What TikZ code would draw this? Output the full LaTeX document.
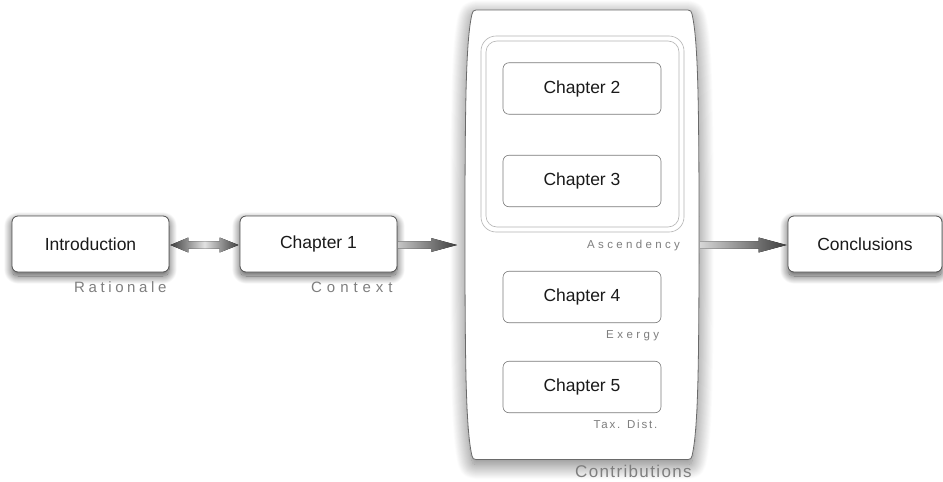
\documentclass[tikz,border=0pt]{standalone}
\usepackage{fontspec}
\setmainfont{Liberation Sans}
\usetikzlibrary{calc,shadows.blur}

\definecolor{boxline}{HTML}{505050}
\definecolor{innerline}{HTML}{7A7A7A}
\definecolor{frameline}{HTML}{B4B4B4}
\definecolor{labelgray}{HTML}{7E7E7E}
\definecolor{inktext}{HTML}{1A1A1A}
\definecolor{arrowdark}{HTML}{3E3E3E}
\definecolor{arrowlight}{HTML}{E2E2E2}
\definecolor{arrowfaint}{HTML}{C4C4C4}
\definecolor{arrowpale}{HTML}{D6D6D6}

\begin{document}
\begin{tikzpicture}[x=1pt,y=-1pt,
  outerbox/.style={draw=boxline, line width=0.8pt, fill=white, rounded corners=6pt,
    minimum width=157pt, minimum height=56pt, inner sep=0pt, text=inktext,
    font=\fontsize{17.5}{20}\selectfont,
    blur shadow={shadow xshift=0pt, shadow yshift=-4pt, shadow blur radius=8pt,
      shadow blur steps=20, shadow opacity=70}},
  chapbox/.style={draw=innerline, line width=0.6pt, fill=white, rounded corners=6pt,
    minimum width=158pt, minimum height=51.5pt, inner sep=0pt, text=inktext,
    font=\fontsize{17.5}{20}\selectfont},
  tag/.style n args={2}{text=labelgray, inner sep=0pt, anchor=base west,
    font=\fontsize{#1}{#1}\selectfont\addfontfeatures{LetterSpace=#2}},
  framepath/.style={draw=frameline, line width=0.6pt}
]
\useasboundingbox (0,0) rectangle (943,482);

% the tall "Contributions" panel with slightly bowed sides
\path[draw=boxline!85, line width=0.8pt, fill=white,
  blur shadow={shadow xshift=0pt, shadow yshift=-5pt, shadow blur radius=15pt,
    shadow blur steps=30, shadow opacity=55}]
  (476,10) -- (688,10) .. controls (690.5,10) and (691.5,11.5) .. (692,14)
  .. controls (698,40) and (699,100) .. (699,235)
  .. controls (699,370) and (698,430) .. (692,456)
  .. controls (691.5,458.5) and (690.5,459.5) .. (688,459.5)
  -- (476,459.5) .. controls (473.5,459.5) and (472.5,458.5) .. (472,456)
  .. controls (466,430) and (465,370) .. (465,235)
  .. controls (465,100) and (466,40) .. (472,14)
  .. controls (472.5,11.5) and (473.5,10) .. (476,10) -- cycle;
\coordinate (contW) at (465,245);
\coordinate (contE) at (699,245);

% double frame grouping chapters 2 and 3
\draw[framepath, rounded corners=15pt] (481,36) rectangle (684,232);
\draw[framepath, rounded corners=11pt] (486,41) rectangle (679,227);

% chapter boxes
\node[outerbox] (intro) at (90.5,244) {Introduction};
\node[outerbox] (ch1) at (318.5,244) {Chapter 1};
\node[outerbox, minimum width=154pt] (concl) at (865,244) {Conclusions};
\node[chapbox] (ch2) at (582,88.5) {Chapter 2};
\node[chapbox] (ch3) at (582,181) {Chapter 3};
\node[chapbox] (ch4) at (582,297) {Chapter 4};
\node[chapbox] (ch5) at (582,387) {Chapter 5};

% captions
\node[tag={15}{24}] (rat) at (74,292.7) {Rationale};
\node[tag={15}{33}] (ctx) at (311,292.7) {Context};
\node[tag={11.5}{29}] (asc) at (587,248.3) {Ascendency};
\node[tag={11.5}{30}] (exe) at (606,338.3) {Exergy};
\node[tag={11.5}{16}] (tax) at (593.5,428.3) {Tax. Dist.};
\node[tag={17}{8}] (con) at (575,477.7) {Contributions};

% Introduction <-> Chapter 1
\coordinate (d1) at ($(intro.east)+(1,1)$);
\coordinate (d2) at ($(ch1.west)+(-1,1)$);
\fill[left color=arrowdark, right color=arrowdark, middle color=arrowlight]
  (d1) -- ($(d1)+(18,-7.5)$) -- ($(d1)+(18,-3.7)$) -- ($(d2)+(-19,-3.7)$)
  -- ($(d2)+(-19,-7.5)$) -- (d2) -- ($(d2)+(-19,7.5)$) -- ($(d2)+(-19,3.7)$)
  -- ($(d1)+(18,3.7)$) -- ($(d1)+(18,7.5)$) -- cycle;

% Chapter 1 -> contributions
\coordinate (s1) at ($(ch1.east)+(1,1)$);
\coordinate (t1) at ($(contW)+(-8,0)$);
\fill[left color=arrowfaint, right color=arrowdark]
  (s1) ++(0,-3.7) -- ($(t1)+(-26,-3.7)$) -- ($(t1)+(-26,-7)$) -- (t1)
  -- ($(t1)+(-26,7)$) -- ($(t1)+(-26,3.7)$) -- ($(s1)+(0,3.7)$) -- cycle;

% contributions -> Conclusions
\coordinate (s2) at ($(contE)+(1,0)$);
\coordinate (t2) at ($(concl.west)+(-1,1)$);
\fill[left color=arrowpale, right color=arrowdark]
  (s2) ++(0,-3.7) -- ($(t2)+(-28,-3.7)$) -- ($(t2)+(-28,-7.5)$) -- (t2)
  -- ($(t2)+(-28,7.5)$) -- ($(t2)+(-28,3.7)$) -- ($(s2)+(0,3.7)$) -- cycle;
\end{tikzpicture}
\end{document}
